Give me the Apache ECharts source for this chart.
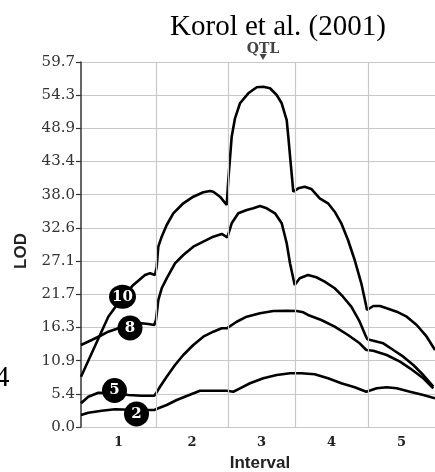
<!DOCTYPE html>
<html>
<head>
<meta charset="utf-8">
<script src="https://cdn.jsdelivr.net/npm/echarts@6/dist/echarts.min.js"></script>
<style>html,body{margin:0;padding:0;background:#fff}#c{width:435px;height:472px}</style>
</head>
<body>
<div id="c"></div>
<script>
// ---- data ----
const intervalBounds = [0, 75, 147, 214, 287, 354];
const intervalLabels = ['1', '2', '3', '4', '5'];
const yTickLabels = ['0.0','5.4','10.9','16.3','21.7','27.1','32.6','38.0','43.4','48.9','54.3','59.7'];
const yMax = 59.7;

const curve10 = [[0,8.23],[19,15.05],[27.3,18.04],[40.7,21.05],[52.3,23.23],[64,24.86],[69,25.14],[74,24.86],
  [75.7,26.22],[77.3,29.49],[80.7,31.13],[85.7,33.04],[92.3,34.95],[102.3,36.59],[112.3,37.67],[122.3,38.39],
  [129,38.6],[132.3,38.49],[139,37.67],[145.7,36.31],[147.3,40.4],[150.7,47.48],[154,50.49],[159,52.95],
  [167.3,54.58],[175.7,55.56],[182.3,55.66],[189,55.4],[195.7,54.3],[200.7,52.95],[205.7,50.21],[207.3,47.48],
  [209.7,43.13],[212.3,38.49],[214,38.22],[217.3,39.04],[223.7,39.3],[230.3,38.93],[238.7,37.41],[247,36.59],
  [253.7,35.21],[260.3,33.32],[267,30.59],[273.7,27.31],[280.3,23.5],[284.3,20.49],[286,19.14],[292.3,19.79],
  [299,19.79],[305.7,19.41],[315.7,18.86],[325.7,18.04],[335.7,16.68],[345.7,14.77],[354,12.59]];
const curve8 = [[0,13.41],[10.7,14.23],[19,14.88],[27.3,15.59],[37.3,16.14],[60.7,16.96],[67.3,16.85],[73.3,16.68],
  [75,17.5],[77.3,20.77],[80.7,22.69],[85.7,24.32],[94,26.77],[102.3,28.13],[112.3,29.49],[122.3,30.31],
  [132.3,31.13],[140.7,31.57],[146.3,31.03],[150.7,33.32],[157.3,34.95],[165.7,35.49],[172.3,35.77],[179,36.15],
  [185.7,35.77],[194,34.95],[200.7,33.32],[205.7,30.05],[209,26.77],[213.7,23.23],[218.7,24.32],[227,24.86],
  [235.3,24.49],[243.7,23.77],[253.7,22.69],[262,21.31],[270.3,19.68],[278.7,17.22],[284.3,15.05],[286.3,14.34],
  [292.3,14.12],[302.3,13.69],[312.3,12.59],[322.3,11.5],[332.3,10.14],[342.3,8.51],[352.3,6.59]];
const curve5 = [[0,3.88],[7.3,4.96],[17.3,5.61],[34,5.51],[47.3,5.23],[60.7,5.12],[73.3,5.12],[75,5.51],
  [79,6.59],[85.7,8.23],[94,10.14],[102.3,11.78],[112.3,13.41],[122.3,14.77],[132.3,15.59],[140.7,16.14],
  [145.7,16.14],[155.7,17.22],[165.7,18.04],[179,18.6],[192.3,18.97],[205.7,19.02],[215.7,18.97],[222.3,18.76],
  [227,18.32],[240.3,17.5],[253.7,16.41],[267,15.05],[278.7,13.69],[285.3,12.59],[292.3,12.48],[305.7,11.78],
  [319,10.68],[329,9.6],[342.3,7.97],[352.3,6.33]];
const curve2 = [[0,1.96],[7.3,2.34],[20.7,2.67],[34,2.9],[55.7,2.78],[73.3,2.78],[77.3,3.06],[85.7,3.6],
  [95.7,4.42],[105.7,5.07],[119,5.94],[132.3,5.94],[145.7,5.94],[152.3,5.77],[159,6.33],[169,7.15],
  [182.3,7.97],[195.7,8.51],[209,8.78],[220.3,8.78],[233.7,8.62],[247,7.97],[260.3,7.15],[273.7,6.49],
  [285.3,5.77],[295.7,6.33],[305.7,6.49],[315.7,6.33],[329,5.77],[342.3,5.23],[354,4.69]];
const curveNames = ['10', '8', '5', '2'];
const labelPoints = [[41.5,21.31],[49,16.19],[33.5,5.97],[55.5,2.13]];

// ---- chart ----
const centers = intervalLabels.map((_, i) => (intervalBounds[i] + intervalBounds[i + 1]) / 2);
const curves = [curve10, curve8, curve5, curve2];
const chart = echarts.init(document.getElementById('c'), null, {renderer: 'canvas'});

const lineSeries = curves.map((d, i) => ({
  type: 'line', name: curveNames[i], data: d, showSymbol: false, symbol: 'none',
  lineStyle: {color: '#000', width: 2.6}, z: 3, silent: true, animation: false
}));

chart.setOption({
  animation: false,
  grid: {left: 81, top: 62, right: 0, bottom: 45, containLabel: false},
  xAxis: {
    type: 'value', min: intervalBounds[0], max: intervalBounds[intervalBounds.length - 1],
    axisLine: {show: false}, axisTick: {show: false}, splitLine: {show: false},
    axisLabel: {
      customValues: centers, margin: 9,
      formatter: v => intervalLabels[centers.findIndex(c => Math.abs(c - v) < 0.01)] || '',
      fontFamily: '"DejaVu Serif"', fontWeight: 'bold', fontSize: 13, color: '#222'
    }
  },
  yAxis: {
    type: 'value', min: 0, max: yMax, interval: yMax / 11,
    axisLine: {show: true, lineStyle: {color: '#333', width: 1.5}},
    axisTick: {show: true, length: 5, lineStyle: {color: '#333', width: 1.2}},
    splitLine: {show: true, lineStyle: {color: '#c8c8c8', width: 1.2}},
    axisLabel: {
      margin: 6,
      formatter: v => yTickLabels[Math.round(v / (yMax / 11))],
      fontFamily: '"DejaVu Serif"', fontSize: 15, color: '#333'
    }
  },
  graphic: [
    {type: 'text', x: 278, y: 27, style: {text: 'Korol et al. (2001)', align: 'center', verticalAlign: 'middle',
      font: '29px "Liberation Serif"', fill: '#000'}},
    {type: 'text', x: 263, y: 49, style: {text: 'QTL', align: 'center', verticalAlign: 'middle',
      font: 'bold 14px "DejaVu Serif"', fill: '#444'}},
    {type: 'polygon', shape: {points: [[259.5, 54], [266.5, 54], [263, 60]]}, style: {fill: '#444'}},
    {type: 'text', x: -5, y: 378, style: {text: '4', align: 'left', verticalAlign: 'middle',
      font: '29px "Liberation Serif"', fill: '#000'}},
    {type: 'text', x: 21, y: 251, rotation: Math.PI / 2, style: {text: 'LOD', align: 'center', verticalAlign: 'middle',
      font: 'bold 17px "Liberation Sans"', fill: '#222'}},
    {type: 'text', x: 260, y: 463, style: {text: 'Interval', align: 'center', verticalAlign: 'middle',
      font: 'bold 17px "Liberation Sans"', fill: '#222'}}
  ],
  series: [
    {
      type: 'scatter', data: [[0, 0]], symbolSize: 0, silent: true, z: 1,
      markLine: {
        silent: true, symbol: ['none', 'none'], label: {show: false}, animation: false,
        lineStyle: {color: '#c8c8c8', width: 1.2, type: 'solid'},
        data: intervalBounds.slice(1, -1).map(b => ({xAxis: b}))
      }
    },
    ...lineSeries,
    {
      type: 'scatter', data: labelPoints.map((p, i) => ({value: p, name: curveNames[i],
        symbolSize: curveNames[i].length > 1 ? [27, 24] : 25})),
      symbol: 'circle', itemStyle: {color: '#000', opacity: 1}, z: 5, silent: true,
      label: {show: true, position: 'inside', formatter: p => p.name, color: '#fff',
        fontFamily: '"DejaVu Serif"', fontWeight: 'bold', fontSize: 15}
    }
  ]
});
</script>
</body>
</html>
